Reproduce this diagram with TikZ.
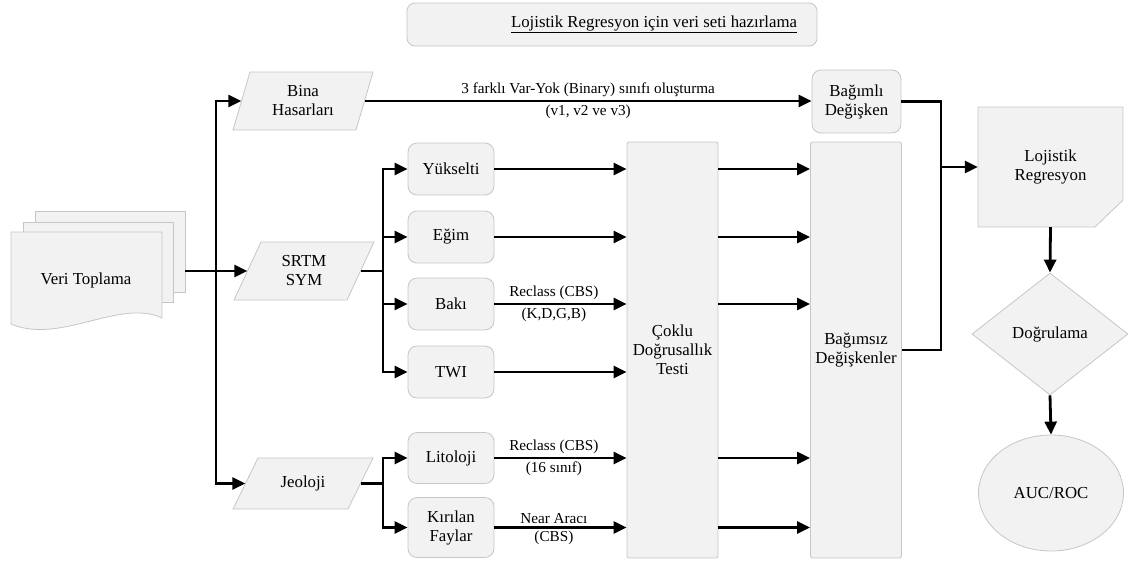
\documentclass[tikz,border=0pt]{standalone}
\usepackage{fontspec}
\setmainfont{Liberation Serif}
\usetikzlibrary{arrows.meta,shapes.geometric,calc}
\definecolor{boxfill}{RGB}{242,242,242}
\definecolor{boxdraw}{RGB}{198,198,198}
\begin{document}
\begin{tikzpicture}[x=1pt,y=-1pt,
  every node/.style={font=\fontsize{16.8}{19}\selectfont, align=center, inner sep=0pt},
  box/.style={draw=boxdraw, fill=boxfill, line width=0.8pt},
  rbox/.style={box, rounded corners=9pt, minimum width=86pt, minimum height=52pt},
  tall/.style={box, rounded corners=2pt, minimum width=91pt, minimum height=416pt},
  plain/.style={draw=none, fill=none},
  lbl/.style={font=\fontsize{15.2}{17}\selectfont, inner sep=2.5pt},
  conn/.style={line width=2.8pt},
  arr/.style={conn, -{Triangle[length=13pt,width=12pt]}},
  dbl/.style={conn, {Triangle[length=13pt,width=12pt]}-{Triangle[length=13pt,width=12pt]}},
]
\useasboundingbox (0,0) rectangle (1129,565);

% title
\node[box, rounded corners=8pt, minimum width=410pt, minimum height=43pt] (titlebox) at (612,24.5) {};
\node (title) at (654,24) {\underline{Lojistik Regresyon için veri seti hazırlama}};

% Veri Toplama (multi document)
\draw[box] (35,211) rectangle (185,292);
\draw[box] (23,222) rectangle (173,302);
\draw[box] (11,232) -- (162,232) -- (162,318) .. controls (120,298) and (60,345) .. (11,324) -- cycle;
\node[plain] (veri) at (86,280) {Veri Toplama};
\coordinate (docR) at (185,271);

% parallelograms
\draw[box] (250,72) -- (373,72) -- (356,130) -- (233,130) -- cycle;
\node[plain, minimum width=123pt, minimum height=58pt] (bina) at (303,101) {Bina\\Hasarları};
\draw[box] (261,242) -- (374,242) -- (347,300) -- (234,300) -- cycle;
\node[plain, minimum width=113pt, minimum height=58pt] (srtm) at (304,271) {SRTM\\SYM};
\draw[box] (258,458) -- (373,458) -- (348,509) -- (233,509) -- cycle;
\node[plain, minimum width=115pt, minimum height=51pt] (jeo) at (303,483.5) {Jeoloji};

% small boxes
\node[rbox] (yuk) at (451,169) {Yükselti};
\node[rbox] (egim) at (451,237) {Eğim};
\node[rbox] (baki) at (451,304) {Bakı};
\node[rbox] (twi) at (451,372) {TWI};
\node[rbox, minimum height=51pt] (lito) at (451,458) {Litoloji};
\node[rbox, minimum height=60pt] (kiri) at (451,527.5) {Kırılan\\Faylar};

% tall boxes
\node[tall] (cok) at (672.5,350) {Çoklu\\Doğrusallık\\Testi};
\node[tall] (bagz) at (856,350) {Bağımsız\\Değişkenler};
\node[rbox, minimum width=89pt, minimum height=63pt] (bagli) at (856.5,101.5) {Bağımlı\\Değişken};

% right side
\draw[box] (978,107) -- (1123,107) -- (1123,200) -- (1095,227) -- (978,227) -- cycle;
\node[plain, minimum width=145pt, minimum height=120pt] (loj) at (1050.5,167) {Lojistik\\Regresyon};
\node[box, diamond, minimum width=156pt, minimum height=122pt] (dog) at (1050,334) {Doğrulama};
\node[box, ellipse, minimum width=145pt, minimum height=116pt] (auc) at (1051,493) {AUC/ROC};

% connectors
\coordinate (bus1) at (216,0);
\coordinate (bus2) at (383,0);
\coordinate (bus3) at (941,0);
\draw[arr] (docR) -- (srtm.west);
\draw[dbl] (bina.west) -- (bus1|-bina.west) -- (bus1|-jeo.west) -- (jeo.west);

\draw[conn] (srtm.east) -- (bus2|-srtm.east);
\draw[dbl] (yuk.west) -- (bus2|-yuk.west) -- (bus2|-twi.west) -- (twi.west);
\draw[arr] (bus2|-egim.west) -- (egim.west);
\draw[arr] (bus2|-baki.west) -- (baki.west);

\draw[conn] (jeo.east) -- (bus2|-jeo.east);
\draw[dbl] (lito.west) -- (bus2|-lito.west) -- (bus2|-kiri.west) -- (kiri.west);

\draw[arr] (bina.east) -- (bina.east -| bagli.west)
  node[lbl, midway, above] {3 farklı Var-Yok (Binary) sınıfı oluşturma}
  node[lbl, midway, below] {(v1, v2 ve v3)};

\draw[arr] (yuk.east) -- (yuk.east -| cok.west);
\draw[arr] (egim.east) -- (egim.east -| cok.west);
\draw[arr] (baki.east) -- (baki.east -| cok.west)
  node[lbl, pos=0.45, above] {Reclass (CBS)}
  node[lbl, pos=0.45, below] {(K,D,G,B)};
\draw[arr] (twi.east) -- (twi.east -| cok.west);
\draw[arr] (lito.east) -- (lito.east -| cok.west)
  node[lbl, pos=0.45, above] {Reclass (CBS)}
  node[lbl, pos=0.45, below] {(16 sınıf)};
\draw[arr] (kiri.east) -- (kiri.east -| cok.west)
  node[lbl, pos=0.45, above] {Near Aracı}
  node[lbl, pos=0.45, below] {(CBS)};

\draw[arr] (yuk.east -| cok.east) -- (yuk.east -| bagz.west);
\draw[arr] (egim.east -| cok.east) -- (egim.east -| bagz.west);
\draw[arr] (baki.east -| cok.east) -- (baki.east -| bagz.west);
\draw[arr] (lito.east -| cok.east) -- (lito.east -| bagz.west);
\draw[arr] (kiri.east -| cok.east) -- (kiri.east -| bagz.west);

\draw[conn] (bagli.east) -- (bus3|-bagli.east) -- (bus3|-bagz.east) -- (bagz.east);
\draw[arr] (bus3|-loj.west) -- (loj.west);
\draw[arr] (loj.south) -- (dog.north);
\draw[arr] (dog.south) -- (auc.north);
\end{tikzpicture}
\end{document}
